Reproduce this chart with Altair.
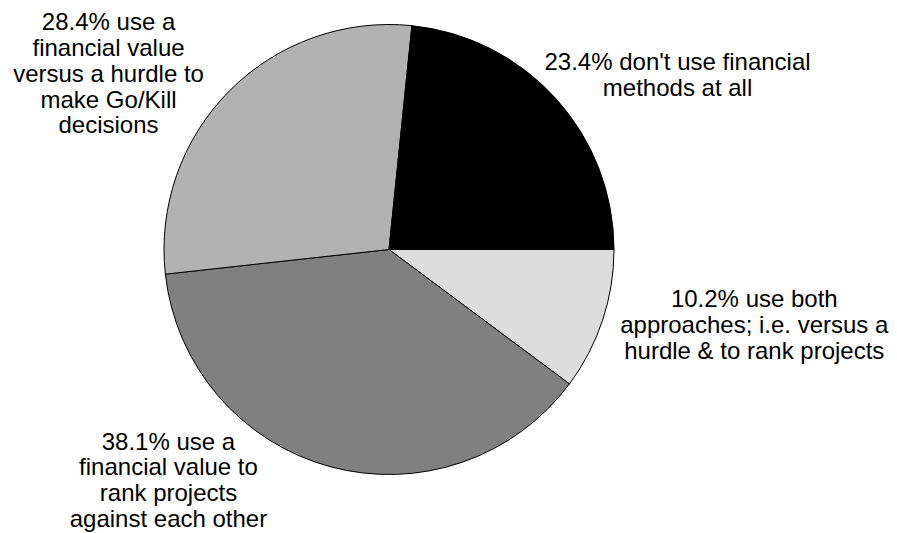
import math
import altair as alt
import pandas as pd

# ---- data ----
categories = ["both", "rank", "hurdle", "none"]
values = [10.2, 38.1, 28.4, 23.4]
label_lines = [
    ["10.2% use both", "approaches; i.e. versus a", "hurdle & to rank projects"],
    ["38.1% use a", "financial value to", "rank projects", "against each other"],
    ["28.4% use a", "financial value", "versus a hurdle to", "make Go/Kill", "decisions"],
    ["23.4% don't use financial", "methods at all"],
]
colors = ["#dddddd", "#808080", "#b2b2b2", "#000000"]

df = pd.DataFrame({
    "cat": categories,
    "value": values,
    "order": list(range(len(categories))),
    "lines": label_lines,
})

total = sum(values)
theta_scale = alt.Scale(domain=[0, total], range=[math.pi / 2, math.pi / 2 + 2 * math.pi])
color_scale = alt.Scale(domain=categories, range=colors)

base = alt.Chart(df)

pie = base.mark_arc(outerRadius=225, stroke="#000000", strokeWidth=1).encode(
    theta=alt.Theta("value:Q", stack=True, scale=theta_scale),
    color=alt.Color("cat:N", scale=color_scale, legend=None),
    order=alt.Order("order:Q"),
)

# label offsets (dx, dy) relative to anchor at radius 250 on the slice mid-angle
offsets = {
    "both": (128, -21),
    "rank": (-155, -41),
    "hurdle": (-103, -43),
    "none": (103, -12),
}

label_base = base.transform_window(
    cum="sum(value)", sort=[alt.SortField("order")], frame=[None, 0]
).transform_calculate(mid="datum.cum - datum.value / 2")

layers = [pie]
for c in categories:
    dx, dy = offsets[c]
    layers.append(
        label_base.transform_filter(alt.datum.cat == c).mark_text(
            font="Liberation Sans", fontSize=24, lineHeight=25.7,
            align="center", baseline="alphabetic", color="#000000",
            radius=250, dx=dx, dy=dy,
        ).encode(
            theta=alt.Theta("mid:Q", stack=None, scale=theta_scale),
            text="lines:N",
        )
    )

chart = alt.layer(*layers).properties(
    width=778, height=499,
    autosize=alt.AutoSizeParams(type="none"),
    padding={"left": 0, "top": 0, "right": 119, "bottom": 34},
).configure_view(strokeWidth=0)

chart.save("out.html", embed_options={"renderer": "svg", "actions": False})
